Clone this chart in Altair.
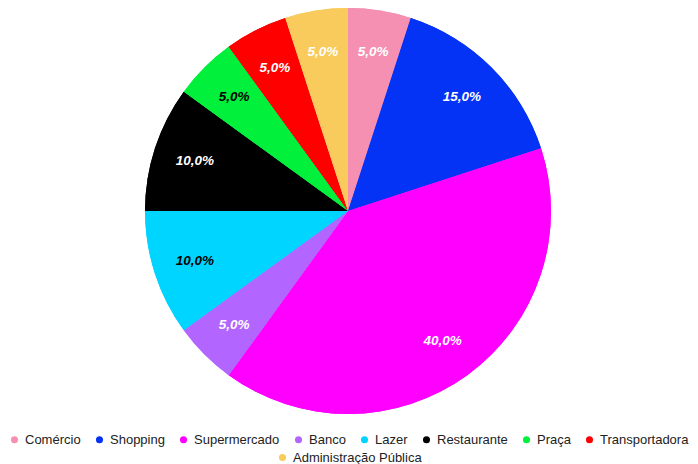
import altair as alt
import pandas as pd

categories = ["Comércio", "Shopping", "Supermercado", "Banco", "Lazer",
              "Restaurante", "Praça", "Transportadora", "Administração Pública"]
values = [5.0, 15.0, 40.0, 5.0, 10.0, 10.0, 5.0, 5.0, 5.0]
colors = ["#f590b2", "#0433f5", "#ff00ff", "#b366ff", "#00d5ff",
          "#000000", "#00f03c", "#ff0000", "#f9cb5c"]
labels = ["5,0%", "15,0%", "40,0%", "5,0%", "10,0%", "10,0%", "5,0%", "5,0%", "5,0%"]
dark_label_cats = ["Lazer", "Praça"]

df = pd.DataFrame({
    "category": categories,
    "value": values,
    "label": labels,
    "order": list(range(len(categories))),
})

theta = alt.Theta("value:Q", stack=True)
order = alt.Order("order:Q")

legend_common = dict(
    title=None, orient="none", direction="horizontal",
    symbolType="circle", symbolSize=50, labelFontSize=13,
    labelFont="Liberation Sans", labelColor="#222222",
    labelOffset=4, padding=0,
)

arcs1 = alt.Chart(df).mark_arc(radius=203, stroke=None).encode(
    theta=theta,
    order=order,
    color=alt.Color(
        "category:N",
        scale=alt.Scale(domain=categories, range=colors),
        legend=alt.Legend(columns=8, values=categories[:8], legendX=0, legendY=425,
                          columnPadding=12, **legend_common),
    ),
)

arcs2 = alt.Chart(df).mark_arc(radius=203, stroke=None).encode(
    theta=theta,
    order=order,
    fill=alt.Fill(
        "category:N",
        scale=alt.Scale(domain=categories, range=colors),
        legend=alt.Legend(values=categories[8:], legendX=268, legendY=443,
                          **legend_common),
    ),
)

cond = " || ".join([f"datum.category == '{c}'" for c in dark_label_cats])
text = alt.Chart(df).mark_text(
    radius=161, font="Liberation Sans", fontSize=13.5, fontWeight="bold",
    fontStyle="italic",
).encode(
    theta=theta,
    order=order,
    text="label:N",
    color=alt.condition(cond, alt.value("#000000"), alt.value("#ffffff")),
)

chart = alt.layer(arcs1, arcs2, text).properties(
    width=680, height=406, padding=0
).configure_view(stroke=None).resolve_scale(color="independent", fill="independent")

chart.save("out.html", embed_options={"renderer": "svg", "actions": False})
